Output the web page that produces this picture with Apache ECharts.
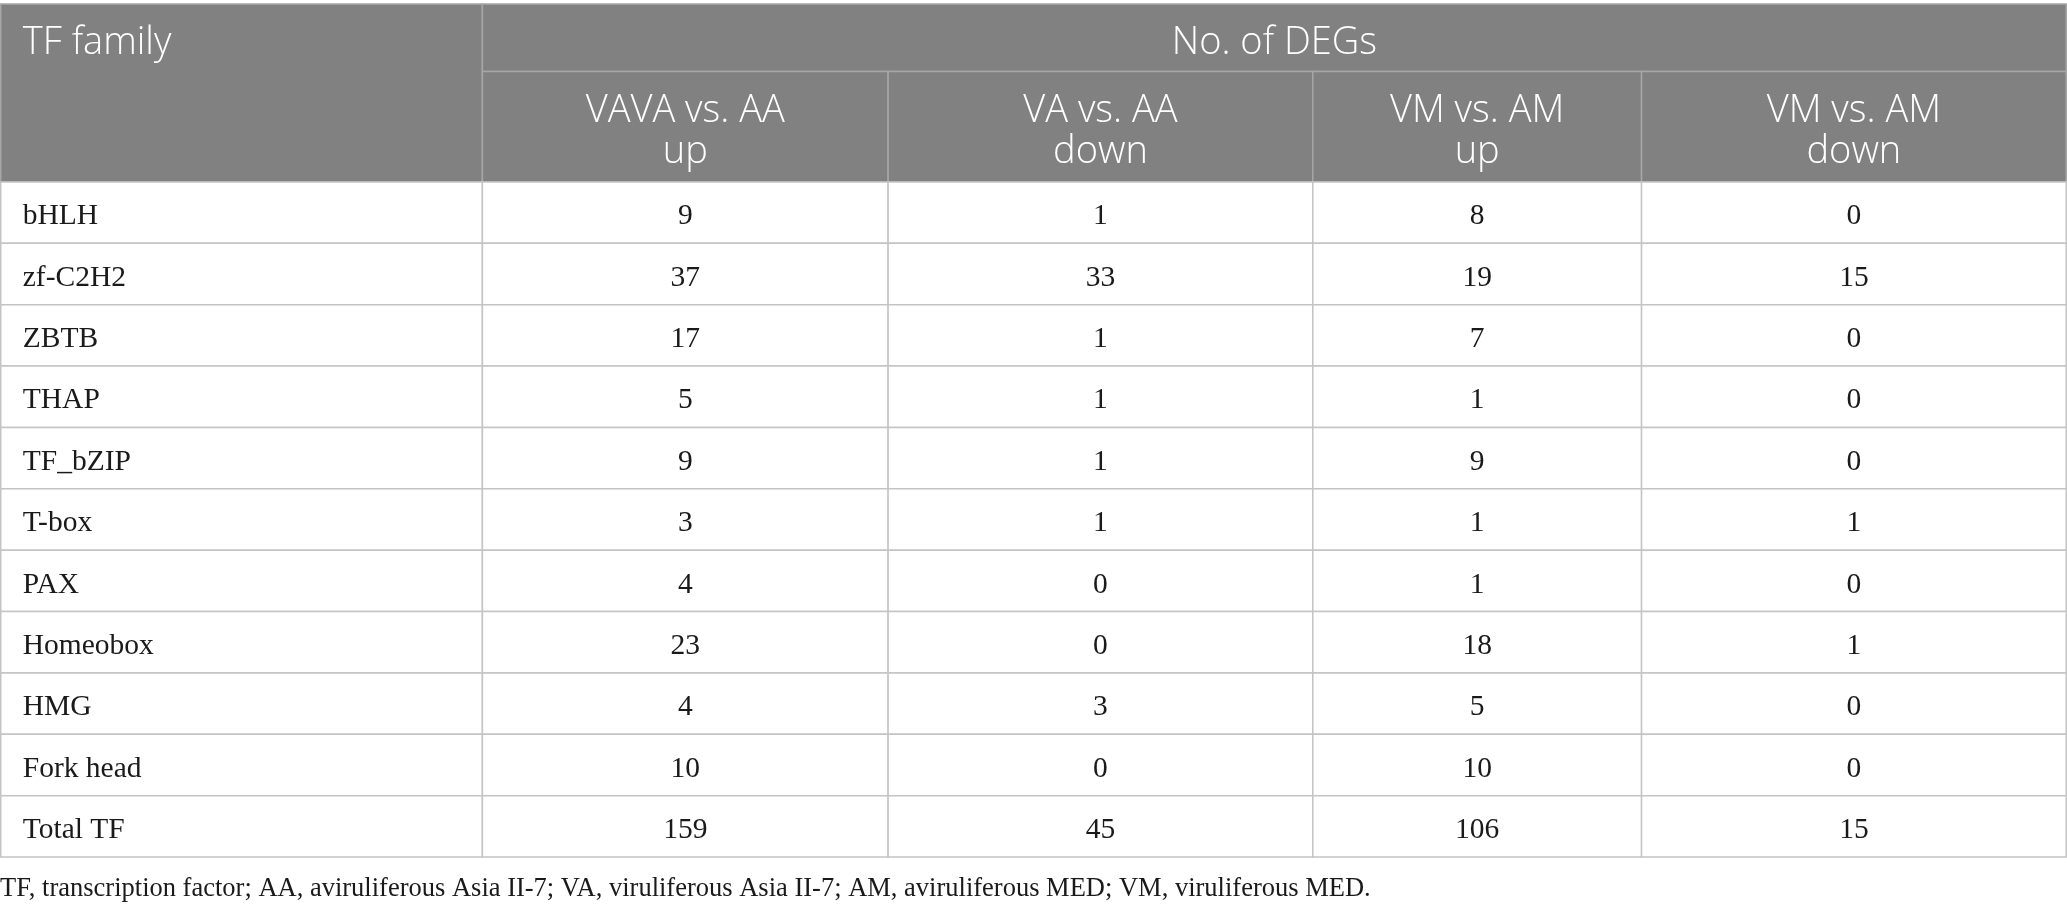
<!DOCTYPE html>
<html lang="en">
<head>
<meta charset="UTF-8" />
<title>TF family DEGs</title>
<script src="https://cdn.jsdelivr.net/npm/echarts@6/dist/echarts.min.js"></script>
<style>
  html, body { margin: 0; padding: 0; background: #fff; }
  #main { width: 2067px; height: 910px; }
</style>
</head>
<body>
<div id="main"></div>
<script>
// data
var families = ['bHLH', 'zf-C2H2', 'ZBTB', 'THAP', 'TF_bZIP', 'T-box', 'PAX', 'Homeobox', 'HMG', 'Fork head', 'Total TF'];
var comparisons = ['VAVA vs. AA\nup', 'VA vs. AA\ndown', 'VM vs. AM\nup', 'VM vs. AM\ndown'];
var vavaAaUp = [9, 37, 17, 5, 9, 3, 4, 23, 4, 10, 159];
var vaAaDown = [1, 33, 1, 1, 1, 1, 0, 0, 3, 0, 45];
var vmAmUp = [8, 19, 7, 1, 9, 1, 1, 18, 5, 10, 106];
var vmAmDown = [0, 15, 0, 0, 0, 1, 0, 1, 0, 0, 15];
var firstHeader = 'TF family';
var groupHeader = 'No. of DEGs';
var footnote = 'TF, transcription factor; AA, aviruliferous Asia II-7; VA, viruliferous Asia II-7; AM, aviruliferous MED; VM, viruliferous MED.';

// layout (table units: px across, row units down)
var colWidths = [482, 406, 425, 329, 425];
var rowUnits = [1.1, 1.8].concat(families.map(function () { return 1; }));

var colEdges = [0];
colWidths.forEach(function (w) { colEdges.push(colEdges[colEdges.length - 1] + w); });
var rowEdges = [0];
rowUnits.forEach(function (h) { rowEdges.push(rowEdges[rowEdges.length - 1] + h); });

var valueCols = [vavaAaUp, vaAaDown, vmAmUp, vmAmDown];

// cells: c0, c1, r0, r1, text, kind
var cells = [];
cells.push({ c0: 0, c1: 1, r0: 0, r1: 2, text: firstHeader, kind: 'headLeft' });
cells.push({ c0: 1, c1: 5, r0: 0, r1: 1, text: groupHeader, kind: 'head' });
comparisons.forEach(function (name, j) {
  cells.push({ c0: j + 1, c1: j + 2, r0: 1, r1: 2, text: name, kind: 'head' });
});
families.forEach(function (fam, i) {
  cells.push({ c0: 0, c1: 1, r0: i + 2, r1: i + 3, text: fam, kind: 'bodyLeft' });
  valueCols.forEach(function (arr, j) {
    cells.push({ c0: j + 1, c1: j + 2, r0: i + 2, r1: i + 3, text: String(arr[i]), kind: 'body' });
  });
});

var headFont = '"Open Sans", "Noto Sans", sans-serif';
var bodyFont = '"Liberation Serif", "DejaVu Serif", serif';

function renderCell(params, api) {
  var cell = cells[api.value(0)];
  var p0 = api.coord([colEdges[cell.c0], rowEdges[cell.r0]]);
  var p1 = api.coord([colEdges[cell.c1], rowEdges[cell.r1]]);
  var isHead = cell.kind.indexOf('head') === 0;
  var left = cell.kind === 'headLeft' || cell.kind === 'bodyLeft';
  var tx = left ? p0[0] + 22 : (p0[0] + p1[0]) / 2;
  var ty = cell.kind === 'headLeft'
    ? api.coord([0, rowEdges[1] / 2])[1]
    : (p0[1] + p1[1]) / 2;
  ty += isHead ? 5 : 4;
  return {
    type: 'group',
    children: [
      {
        type: 'rect',
        shape: { x: p0[0], y: p0[1], width: p1[0] - p0[0], height: p1[1] - p0[1] },
        style: {
          fill: isHead ? '#808180' : '#ffffff',
          stroke: isHead ? '#a6a6a6' : '#c4c4c4',
          lineWidth: 1.5
        }
      },
      {
        type: 'text',
        x: tx,
        y: ty,
        style: {
          text: cell.text,
          fill: isHead ? '#ffffff' : '#1a1a1a',
          fontFamily: isHead ? headFont : bodyFont,
          fontSize: isHead ? 38 : 29.5,
          fontWeight: isHead ? 300 : 'normal',
          lineHeight: isHead ? 41 : 31,
          align: left ? 'left' : 'center',
          verticalAlign: 'middle'
        }
      }
    ]
  };
}

var chart = echarts.init(document.getElementById('main'), null, { renderer: 'canvas' });
chart.setOption({
  animation: false,
  backgroundColor: '#ffffff',
  title: {
    text: footnote,
    left: 0,
    top: 876,
    padding: 0,
    textStyle: { fontFamily: bodyFont, fontSize: 26.5, fontWeight: 'normal', color: '#1a1a1a' }
  },
  grid: { left: 0.75, right: 0.75, top: 4, height: 853 },
  xAxis: { type: 'value', min: 0, max: colEdges[colEdges.length - 1], show: false },
  yAxis: { type: 'value', min: 0, max: rowEdges[rowEdges.length - 1], inverse: true, show: false },
  series: [{
    type: 'custom',
    renderItem: renderCell,
    data: cells.map(function (c, i) { return [i]; }),
    encode: { x: [], y: [] },
    silent: true,
    clip: false
  }]
});
</script>
</body>
</html>
